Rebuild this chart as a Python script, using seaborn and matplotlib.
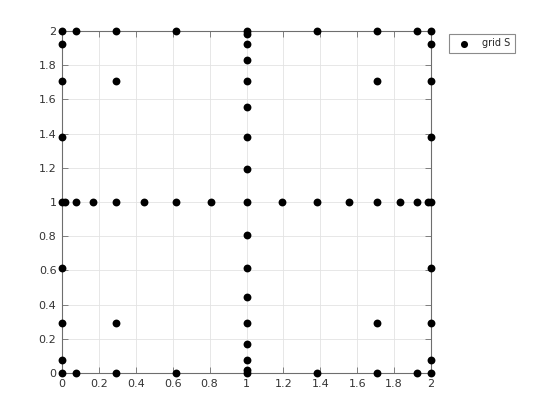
import numpy as np
import pandas as pd
import matplotlib
matplotlib.use("Agg")
import matplotlib.pyplot as plt
from matplotlib.ticker import MultipleLocator
import seaborn as sns

# координаты узлов
line_pts = [0, 0.019, 0.076, 0.169, 0.293, 0.444, 0.617, 0.805, 1,
            1.195, 1.383, 1.556, 1.707, 1.831, 1.924, 1.981, 2]   # линии x=1 и y=1
edge_pts = [0, 0.076, 0.293, 0.617, 1, 1.383, 1.707, 1.924, 2]     # границы квадрата
inner_x = [0.293, 1.707, 0.293, 1.707]
inner_y = [1.707, 1.707, 0.293, 0.293]
label = "grid S"

xs, ys = [], []
for v in line_pts:
    xs += [1, v]
    ys += [v, 1]
for v in edge_pts:
    xs += [0, 2, v, v]
    ys += [v, v, 0, 2]
xs += inner_x
ys += inner_y
df = pd.DataFrame({"x": xs, "y": ys}).drop_duplicates()

sns.set_style("white")
plt.rcParams["font.family"] = ["DejaVu Sans"]

fig = plt.figure(figsize=(5.6, 4.2), dpi=100)
ax = fig.add_axes([0.1107, 0.1119, 0.659, 0.814])

sns.scatterplot(data=df, x="x", y="y", color="black", s=32, edgecolor="black",
                linewidth=0, label=label, ax=ax, clip_on=False, zorder=5)

ax.set_xlim(0, 2)
ax.set_ylim(0, 2)
ax.xaxis.set_major_locator(MultipleLocator(0.2))
ax.yaxis.set_major_locator(MultipleLocator(0.2))
fmt = plt.FuncFormatter(lambda v, p: "%g" % round(v, 2))
ax.xaxis.set_major_formatter(fmt)
ax.yaxis.set_major_formatter(fmt)
ax.set_xlabel("")
ax.set_ylabel("")
ax.grid(True, color="#e3e3e3", linewidth=0.6)
ax.set_axisbelow(True)
for sp in ax.spines.values():
    sp.set_visible(True)
    sp.set_color("#6e6e6e")
    sp.set_linewidth(0.8)
ax.tick_params(direction="in", length=4, width=0.6, colors="#6e6e6e",
               labelcolor="#333333", labelsize=8, top=True, right=True,
               left=True, bottom=True, pad=4)

leg = ax.legend(loc="upper left", bbox_to_anchor=(1.04, 1.0), fontsize=7,
                frameon=True, fancybox=False, edgecolor="#6e6e6e",
                handlelength=2.2, handletextpad=0.8, borderpad=0.45,
                borderaxespad=0.3, markerscale=0.9)
leg.get_frame().set_linewidth(0.8)

fig.savefig("out.png", dpi=100)
